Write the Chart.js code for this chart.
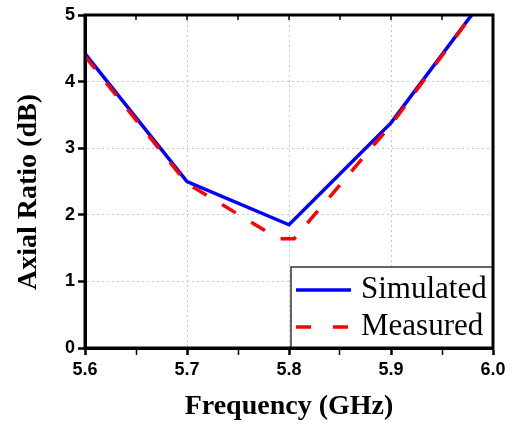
<!DOCTYPE html>
<html>
<head>
<meta charset="utf-8">
<script src="https://cdn.jsdelivr.net/npm/chart.js@4/dist/chart.umd.min.js"></script>
<style>
  html, body { margin: 0; padding: 0; background: #fff; }
  #wrap { width: 513px; height: 425px; }
</style>
</head>
<body>
<div id="wrap"><canvas id="c" width="513" height="425"></canvas></div>
<script>
// values
var simFreq = [5.6, 5.7, 5.8, 5.9, 6.0];
var simAR = [4.42, 2.5, 1.85, 3.38, 5.43];
var measFreq = [5.6, 5.7, 5.79, 5.805, 5.9, 6.0];
var measAR = [4.38, 2.47, 1.64, 1.64, 3.35, 5.43];
var xTicks = [5.6, 5.7, 5.8, 5.9, 6.0];
var yTicks = [0, 1, 2, 3, 4, 5];

var serif = '"Liberation Serif", "Times New Roman", serif';
var sans = '"Liberation Sans", Arial, sans-serif';

function toPoints(xs, ys) {
    return xs.map(function(x, i) { return {x: x, y: ys[i]}; });
}

function isMajor(v) {
    return Math.abs(v * 10 - Math.round(v * 10)) < 1e-6;
}

// frame, top ticks, y title and the boxed legend inside the plot
var framePlugin = {
    id: 'frame',
    afterDraw: function(chart) {
        var ctx = chart.ctx;
        var a = chart.chartArea;
        var xs = chart.scales.x;
        ctx.save();
        // y axis title
        ctx.save();
        ctx.translate(29, 192);
        ctx.rotate(-Math.PI / 2);
        ctx.fillStyle = '#000';
        ctx.font = 'bold 28px ' + serif;
        ctx.textAlign = 'center';
        ctx.textBaseline = 'middle';
        ctx.fillText('Axial Ratio (dB)', 0, 0);
        ctx.restore();
        // top inward ticks
        ctx.strokeStyle = '#000';
        ctx.lineWidth = 1.5;
        for (var v = 5.65; v < 6.0; v += 0.05) {
            var px = xs.getPixelForValue(v);
            ctx.beginPath();
            ctx.moveTo(px, a.top);
            ctx.lineTo(px, a.top + 5);
            ctx.stroke();
        }
        // legend box
        var w = 202, h = 81;
        var lx = a.right - w, ly = a.bottom - h;
        ctx.fillStyle = '#fff';
        ctx.fillRect(lx, ly, w, h);
        ctx.strokeStyle = '#333';
        ctx.lineWidth = 1.5;
        ctx.strokeRect(lx, ly, w, h);
        var rows = [23, 60];
        chart.data.datasets.forEach(function(ds, i) {
            var y = ly + rows[i];
            ctx.beginPath();
            ctx.strokeStyle = ds.borderColor;
            ctx.lineWidth = ds.borderWidth;
            ctx.setLineDash(ds.borderDash ? [15, 22] : []);
            ctx.moveTo(lx + 5, y);
            ctx.lineTo(lx + 60, y);
            ctx.stroke();
            ctx.setLineDash([]);
            ctx.fillStyle = '#000';
            ctx.font = '31px ' + serif;
            ctx.textBaseline = 'middle';
            ctx.fillText(ds.label, lx + 70, y);
        });
        // plot frame
        ctx.strokeStyle = '#000';
        ctx.lineWidth = 3;
        ctx.strokeRect(a.left, a.top, a.right - a.left, a.bottom - a.top);
        ctx.restore();
    }
};

var ctx = document.getElementById('c').getContext('2d');
var chart = new Chart(ctx, {
    type: 'line',
    data: {
        datasets: [{
            label: 'Simulated',
            data: toPoints(simFreq, simAR),
            borderColor: '#0000ff',
            borderWidth: 3.5,
            pointRadius: 0,
            fill: false,
            tension: 0,
            clip: 0,
            order: 2
        }, {
            label: 'Measured',
            data: toPoints(measFreq, measAR),
            borderColor: '#ff0000',
            borderWidth: 3.5,
            borderDash: [16, 18],
            pointRadius: 0,
            fill: false,
            tension: 0,
            clip: 0,
            order: 1
        }]
    },
    options: {
        responsive: false,
        animation: false,
        layout: { padding: { left: 0, top: 15, right: 20, bottom: 0 } },
        plugins: { legend: { display: false }, tooltip: { enabled: false } },
        scales: {
            x: {
                type: 'linear',
                min: xTicks[0],
                max: xTicks[xTicks.length - 1],
                afterFit: function(s) { s.height = 77; },
                afterBuildTicks: function(s) {
                    var t = [];
                    for (var i = 0; i <= 8; i++) t.push({value: +(5.6 + i * 0.05).toFixed(2)});
                    s.ticks = t;
                },
                ticks: {
                    color: '#000',
                    padding: 4,
                    maxRotation: 0,
                    autoSkip: false,
                    font: { family: sans, size: 18, weight: 'bold' },
                    callback: function(v) { return isMajor(v) ? v.toFixed(1) : ''; }
                },
                grid: {
                    color: function(c) {
                        var v = c.tick ? c.tick.value : 0;
                        if (!isMajor(v) || v <= 5.6 || v >= 6.0) return 'rgba(0,0,0,0)';
                        return '#c8c8c8';
                    },
                    lineWidth: 1,
                    tickColor: '#000',
                    tickLength: 7,
                    tickWidth: function(c) { return c.tick && isMajor(c.tick.value) ? 2.5 : 1.5; }
                },
                border: { color: '#000', width: 3, dash: [2, 3] },
                title: {
                    display: true,
                    text: 'Frequency (GHz)',
                    color: '#000',
                    padding: { top: 0, bottom: 1 },
                    font: { family: serif, size: 28, weight: 'bold' }
                }
            },
            y: {
                min: yTicks[0],
                max: yTicks[yTicks.length - 1],
                afterFit: function(s) { s.width = 85; },
                afterBuildTicks: function(s) {
                    s.ticks = yTicks.map(function(v) { return {value: v}; });
                },
                ticks: {
                    color: '#000',
                    padding: 3,
                    font: { family: sans, size: 18, weight: 'bold' }
                },
                grid: {
                    color: function(c) {
                        var v = c.tick ? c.tick.value : 0;
                        return (v <= 0 || v >= 5) ? 'rgba(0,0,0,0)' : '#c8c8c8';
                    },
                    lineWidth: 1,
                    tickColor: '#000',
                    tickLength: 7,
                    tickWidth: 2.5
                },
                border: { color: '#000', width: 3, dash: [2, 3] }
            }
        }
    },
    plugins: [framePlugin]
});
</script>
</body>
</html>
